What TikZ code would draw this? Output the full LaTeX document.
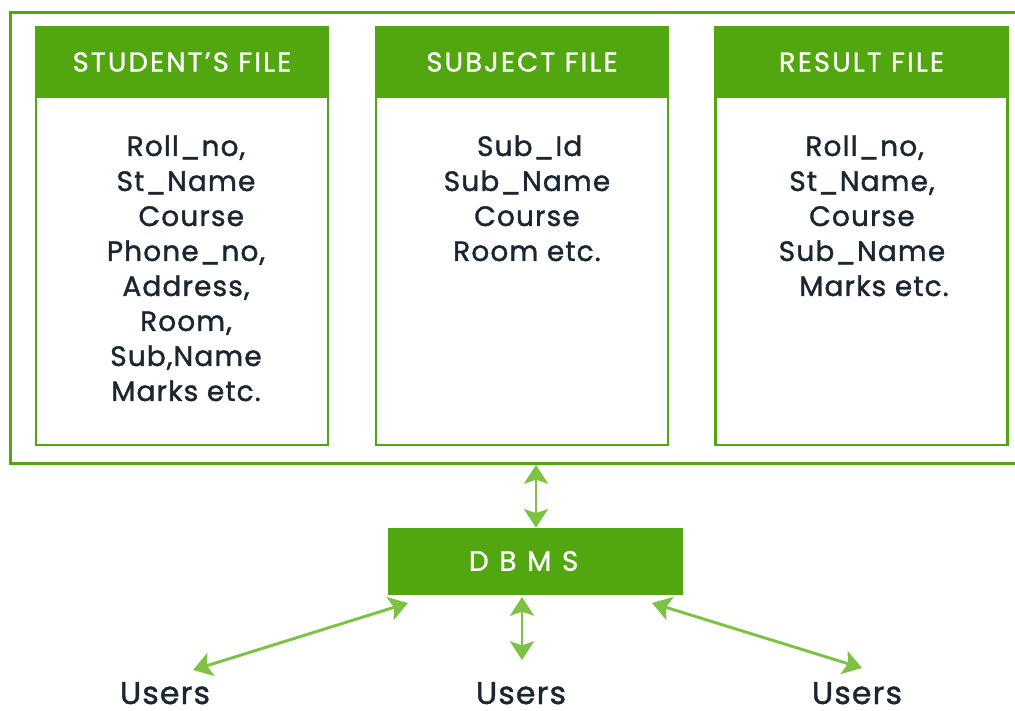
\documentclass[tikz,border=0pt]{standalone}
\usepackage{fontspec}
\setmainfont{Poppins}
\newfontfamily\bodyfont{Poppins}[LetterSpace=4,FakeBold=1.4]
\newfontfamily\headfont{Poppins}[LetterSpace=8,FakeBold=1.0]
\newfontfamily\usersfont{Poppins}[LetterSpace=4,FakeBold=1.4]
\newfontfamily\dbmsfont{Poppins}[FakeBold=1.0]
\usetikzlibrary{arrows.meta,calc}
\definecolor{dkgreen}{HTML}{52A711}
\definecolor{ltgreen}{HTML}{7DC242}
\definecolor{txt}{HTML}{1B2631}
\tikzset{
  frame/.style={draw=dkgreen,line width=2.25pt},
  filebox/.style={draw=dkgreen,line width=1.9pt,minimum width=292*0.75pt,minimum height=417*0.75pt,inner sep=0pt},
  filehead/.style={fill=dkgreen,draw=dkgreen,line width=1.9pt,minimum width=292*0.75pt,minimum height=70*0.75pt,inner sep=0pt,text=white,font=\headfont\fontsize{20.5}{22}\selectfont},
  filebody/.style={text=txt,align=center,anchor=north,inner sep=0pt,font=\bodyfont\fontsize{21}{26.25}\selectfont},
  dbmsbox/.style={fill=dkgreen,draw=dkgreen,minimum width=294*0.75pt,minimum height=66*0.75pt,inner sep=0pt,text=white,font=\dbmsfont\fontsize{21}{22}\selectfont},
  users/.style={text=txt,anchor=base,inner sep=0pt,font=\usersfont\fontsize{23.5}{26}\selectfont},
  arr/.style={draw=ltgreen,line width=2.2pt,{Stealth[length=14pt,width=18pt,inset=3pt]}-{Stealth[length=14pt,width=18pt,inset=3pt]}}
}
\begin{document}
\begin{tikzpicture}[x=0.75pt,y=-0.75pt]
\useasboundingbox (0,0) rectangle (1015,711);
\clip (0,0) rectangle (1015,711);
\fill[white] (0,0) rectangle (1015,711);
\draw[frame] (10,12) rectangle (1040,463);
% boxes
\node[filebox] (sbox) at (182,236.5) {};
\node[filehead] (shead) at (182,62) {STUDENT’S FILE};
\node[filebody] (sbody) at (186,135) {Roll\_no,\\St\_Name\\\hspace{8pt}Course\\Phone\_no,\\Address,\\Room,\\Sub,Name\\Marks etc.};
\node[filebox] (jbox) at (522,236.5) {};
\node[filehead] (jhead) at (522,62) {SUBJECT FILE};
\node[filebody] (jbody) at (527,135) {\hspace{4pt}Sub\_Id\\Sub\_Name\\Course\\Room etc.};
\node[filebox] (rbox) at (861.5,236.5) {};
\node[filehead] (rhead) at (861.5,62) {RESULT FILE};
\node[filebody] (rbody) at (862,135) {\hspace{4pt}Roll\_no,\\St\_Name,\hspace{30pt}\\Course\hspace{16pt}\\Sub\_Name\\\hspace{18pt}Marks etc.};
% DBMS
\node[dbmsbox] (dbms) at (535,561) {D\kern8pt B\kern8pt M\kern8pt S\kern17pt};
% users
\node[users] (u1) at (165,704) {Users};
\node[users] (u2) at (521,704) {Users};
\node[users] (u3) at (857,704) {Users};
% connectors
\coordinate (ftop) at (536,465);
\coordinate (c1) at (408,603);
\coordinate (c1e) at (193,670);
\coordinate (c2) at (522,597);
\coordinate (c2e) at (522,660);
\coordinate (c3) at (652,603);
\coordinate (c3e) at (862,668);
\draw[arr] (ftop) -- (dbms.north -| ftop);
\draw[arr] (c1) -- (c1e);
\draw[arr] (c2) -- (c2e);
\draw[arr] (c3) -- (c3e);
\end{tikzpicture}
\end{document}
